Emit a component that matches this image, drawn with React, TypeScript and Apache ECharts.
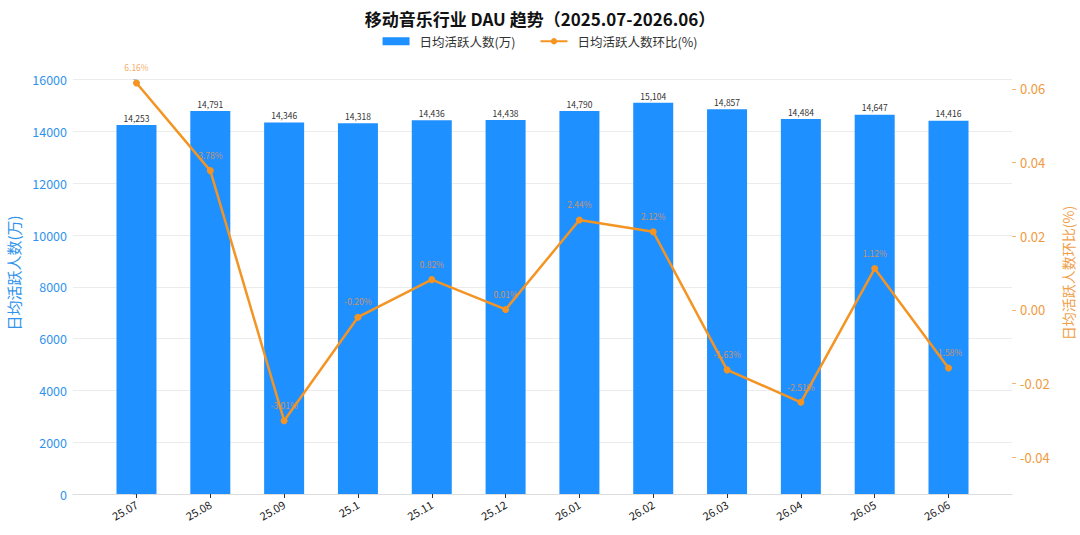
import React, { useEffect, useRef } from "react";
import * as echarts from "echarts";

const categories = ["25.07", "25.08", "25.09", "25.1", "25.11", "25.12", "26.01", "26.02", "26.03", "26.04", "26.05", "26.06"];
const dauValues = [14253, 14791, 14346, 14318, 14436, 14438, 14790, 15104, 14857, 14484, 14647, 14416];
const momPercent = [6.16, 3.78, -3.01, -0.2, 0.82, 0.01, 2.44, 2.12, -1.63, -2.51, 1.12, -1.58];
const leftTicks = [0, 2000, 4000, 6000, 8000, 10000, 12000, 14000, 16000];
const rightTicks = [-0.04, -0.02, 0, 0.02, 0.04, 0.06];

const FONT = "'Noto Sans CJK SC', 'Noto Sans', sans-serif";
const BLUE = "#1E90FF";
const ORANGE = "#F39423";

export default function App() {
  const ref = useRef<HTMLDivElement>(null);
  useEffect(() => {
    if (!ref.current) return;
    const chart = echarts.init(ref.current, null, { renderer: "svg" });
    const idx = categories.map((_, i) => i);
    chart.setOption({
      animation: false,
      backgroundColor: "#ffffff",
      textStyle: { fontFamily: FONT },
      title: {
        text: "移动音乐行业 DAU 趋势（2025.07-2026.06）",
        left: "center",
        top: 5,
        textStyle: { fontFamily: FONT, fontSize: 17, fontWeight: "bold", color: "#111" },
      },
      legend: {
        top: 30,
        left: "center",
        itemWidth: 27,
        itemHeight: 8,
        itemGap: 24,
        textStyle: { fontFamily: FONT, fontSize: 12.5, color: "#333", padding: [0, 0, 0, 5] },
        data: [
          { name: "日均活跃人数(万)", icon: "rect" },
          { name: "日均活跃人数环比(%)" },
        ],
      },
      grid: { left: 73, right: 68, top: 52, bottom: 41, containLabel: false, outerBoundsMode: "none" },
      xAxis: {
        type: "value",
        min: -0.86,
        max: 11.86,
        splitLine: { show: false },
        axisLine: { show: true, onZero: false, lineStyle: { color: "#dddddd", width: 1 } },
        axisTick: { show: true, customValues: idx, length: 4, lineStyle: { color: "#333" } },
        axisLabel: {
          customValues: idx,
          rotate: 30,
          margin: 9,
          fontSize: 11,
          color: "#222",
          fontFamily: FONT,
          formatter: (v: number) => categories[Math.round(v)] ?? "",
        },
      },
      yAxis: [
        {
          type: "value",
          min: 0,
          max: 17067,
          position: "left",
          name: "日均活跃人数(万)",
          nameLocation: "middle",
          nameGap: 47,
          nameRotate: 90,
          nameTextStyle: { color: "#2F93EC", fontSize: 15, fontFamily: FONT },
          axisLine: { show: false },
          axisTick: { show: true, customValues: leftTicks, length: 3.5, lineStyle: { color: "#9cc5ec" } },
          axisLabel: {
            customValues: leftTicks,
            color: "#2F93EC",
            fontSize: 12.5,
            margin: 6,
            fontFamily: FONT,
            formatter: (v: number) => String(v),
          },
          splitLine: { show: true, lineStyle: { color: "#ececec", width: 1 } },
        },
        {
          type: "value",
          min: -0.05,
          max: 0.07,
          position: "right",
          name: "日均活跃人数环比(%)",
          nameLocation: "middle",
          nameGap: 39,
          nameRotate: 90,
          nameTextStyle: { color: "#F0A04A", fontSize: 14, fontFamily: FONT },
          axisLine: { show: false },
          axisTick: { show: true, customValues: rightTicks, length: 4, lineStyle: { color: "#F3B679" } },
          axisLabel: {
            customValues: rightTicks,
            color: "#F09A3E",
            fontSize: 13,
            margin: 8,
            fontFamily: FONT,
            formatter: (v: number) => v.toFixed(2),
          },
          splitLine: { show: false },
        },
      ],
      series: [
        {
          name: "日均活跃人数(万)",
          type: "bar",
          xAxisIndex: 0,
          yAxisIndex: 0,
          barWidth: 40,
          itemStyle: { color: BLUE },
          data: dauValues.map((v, i) => [i, v]),
          label: {
            show: true,
            position: "top",
            distance: 3,
            fontSize: 8.5,
            color: "#333",
            fontFamily: FONT,
            formatter: (p: any) => dauValues[p.dataIndex].toLocaleString("en-US"),
          },
        },
        {
          name: "日均活跃人数环比(%)",
          type: "line",
          xAxisIndex: 0,
          yAxisIndex: 1,
          symbol: "circle",
          symbolSize: 7,
          z: 5,
          lineStyle: { color: ORANGE, width: 2.5 },
          itemStyle: { color: ORANGE },
          data: momPercent.map((v, i) => [i, v / 100]),
          label: {
            show: true,
            position: "top",
            distance: 8,
            fontSize: 8.5,
            color: "rgba(240,150,60,0.8)",
            fontFamily: FONT,
            formatter: (p: any) => `${momPercent[p.dataIndex].toFixed(2)}%`,
          },
        },
      ],
    });
    return () => chart.dispose();
  }, []);
  return <div ref={ref} style={{ position: "fixed", left: 0, top: 0, width: 1080, height: 535 }} />;
}
